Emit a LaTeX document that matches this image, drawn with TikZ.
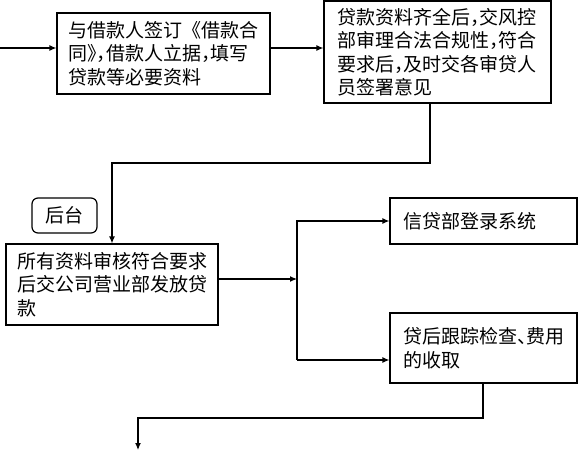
\documentclass[tikz,border=0pt]{standalone}
\usepackage{fontspec}
\newfontfamily\cjk[RawFeature=+halt]{Noto Sans CJK SC}
\newfontfamily\cjkfull{Noto Sans CJK SC}
\usetikzlibrary{arrows.meta}

\begin{document}
\begin{tikzpicture}[x=1pt, y=-1pt, line width=1.2pt, >={Latex[length=7pt,width=6pt]},
  font=\cjk\fontsize{19}{23.5}\selectfont]
  \useasboundingbox (0,0) rectangle (578,450);
  % Nodes
  \node (sign) [rectangle, draw, minimum height=81pt, minimum width=213pt, inner xsep=11pt, text width=191pt, align=left] at (163.5, 53.5) {与借款人签订{\cjkfull 《}借款合\\同》，借款人立据，填写\\贷款等必要资料};
  \node (risk) [rectangle, draw, minimum height=102pt, minimum width=227pt, inner xsep=13pt, text width=201pt, align=left] at (437.5, 52) {贷款资料齐全后，交风控\\部审理合法合规性，符合\\要求后，及时交各审贷人\\员签署意见};
  \node (back) [rectangle, draw, rounded corners=6pt, minimum height=35pt, minimum width=65pt] at (64.5, 215.5) {后台};
  \node (grant) [rectangle, draw, minimum height=81pt, minimum width=212pt, inner xsep=11pt, text width=190pt, align=left] at (112, 284.5) {所有资料审核符合要求\\后交公司营业部发放贷\\款};
  \node (sys) [rectangle, draw, minimum height=46pt, minimum width=187pt, inner xsep=13pt, text width=161pt, align=left] at (483.5, 221) {信贷部登录系统};
  \node (track) [rectangle, draw, minimum height=70pt, minimum width=187pt, inner xsep=13pt, text width=161pt, align=left] at (483.5, 348) {贷后跟踪检查、费用\\的收取};
  % Turning points
  \coordinate (start) at (0, 48);
  \coordinate (bend1) at (430, 163);
  \coordinate (split) at (297, 279);
  \coordinate (lower) at (297, 360);
  \coordinate (bend2) at (483, 418);
  \coordinate (stop) at (138, 450);
  % Arrows
  \draw[->] (start) -- (start -| sign.west);
  \draw[->] (start -| sign.east) -- (start -| risk.west);
  \draw[->] (bend1 |- risk.south) -- (bend1) -| (grant.north);
  \draw[->] (split -| grant.east) -- (split);
  \draw[->] (lower) -- (split) |- (sys.west);
  \draw[->] (lower) -- (lower -| track.west);
  \draw[->] (bend2 |- track.south) -- (bend2) -| (stop);
\end{tikzpicture}
\end{document}
